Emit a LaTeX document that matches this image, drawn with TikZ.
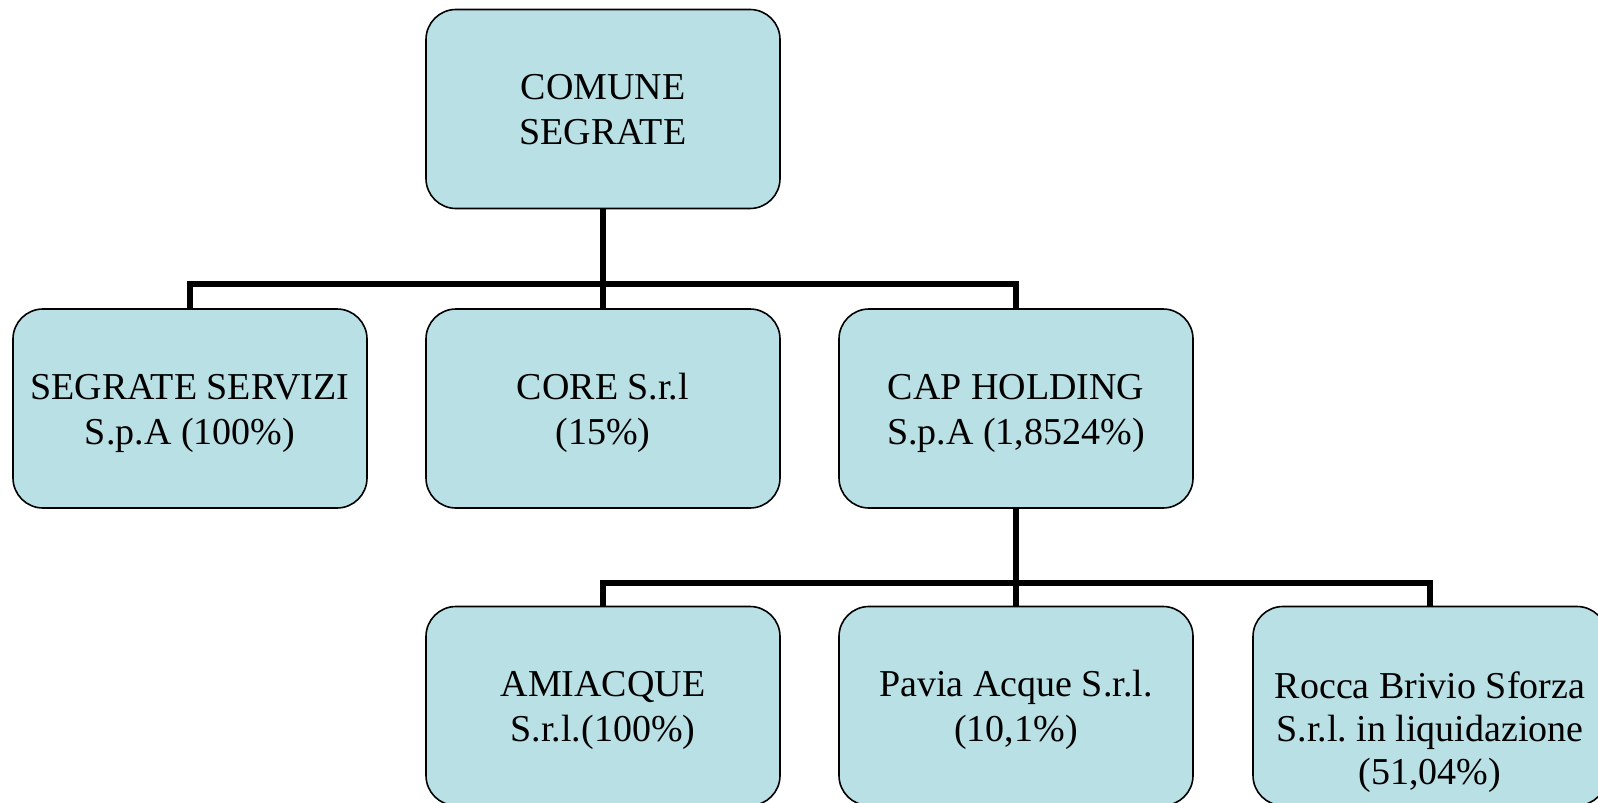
\documentclass[tikz,border=0pt]{standalone}
\usepackage{fontspec}
\setmainfont{Liberation Serif}
\frenchspacing
\definecolor{boxfill}{RGB}{185,224,228}
\newcommand{\topgap}{\rule{0pt}{40pt}}
\tikzset{
  orgbox/.style={draw=black, line width=1.6pt, fill=boxfill, rounded corners=30pt,
    minimum width=354pt, minimum height=199pt, inner sep=0pt, align=center,
    font=\fontsize{38}{45}\selectfont},
  orgtext/.style={inner sep=0pt, align=center, font=\fontsize{38}{43}\selectfont},
  conn/.style={draw=black, line width=5.5pt, line join=miter}
}
\begin{document}
\begin{tikzpicture}[x=1pt,y=1pt]
\useasboundingbox (0,0) rectangle (1598,-803);
\begin{scope}
\clip (0,0) rectangle (1598,-803);
\coordinate (busA) at (603,-284);
\coordinate (busB) at (1016,-583);
\node[orgbox] (top) at (603,-109) {\topgap COMUNE\\SEGRATE\strut};
\node[orgbox] (s1) at (190,-408.5) {\topgap SEGRATE SERVIZI\\S.p.A (100\%)\strut};
\node[orgbox] (s2) at (603,-408.5) {\topgap CORE S.r.l\\(15\%)\strut};
\node[orgbox] (s3) at (1016,-408.5) {\topgap CAP HOLDING\\S.p.A (1,8524\%)\strut};
\node[orgbox] (b1) at (603,-706) {\topgap AMIACQUE\\S.r.l.(100\%)\strut};
\node[orgbox] (b2) at (1016,-706) {\topgap Pavia Acque S.r.l.\\(10,1\%)\strut};
\node[orgbox] (b3) at (1430,-706) {};
\node[orgtext] (b3t) at ([yshift=-27pt]b3.center) {\strut Rocca Brivio Sforza\\S.r.l. in liquidazione\\(51,04\%)\strut};
% connectors
\draw[conn] (top.south) -- (s2.north);
\draw[conn] (s1.north) |- (busA) -| (s3.north);
\draw[conn] (s3.south) -- (b2.north);
\draw[conn] (b1.north) |- (busB) -| (b3.north);
\end{scope}
\end{tikzpicture}
\end{document}
